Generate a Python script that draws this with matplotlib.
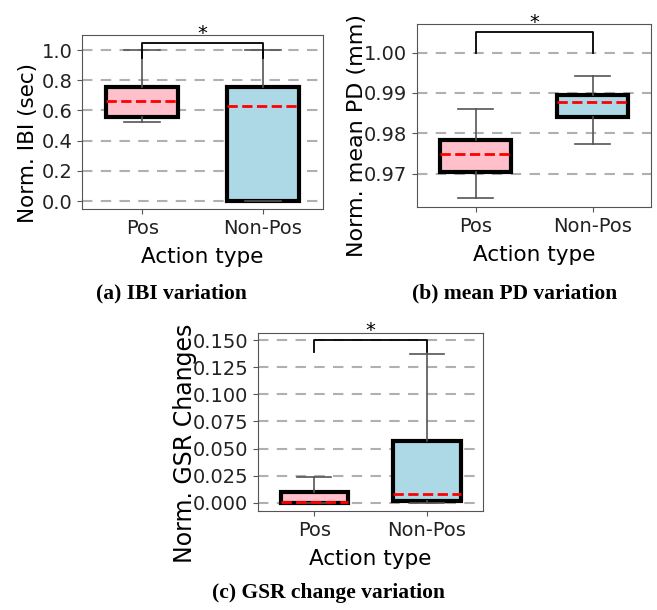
import matplotlib.pyplot as plt

groups = ["Pos", "Non-Pos"]
colors = ["pink", "lightblue"]

# box stats: q1, median, q3, lower whisker, upper whisker
ibi_q1 = [0.555, 0.0]
ibi_med = [0.665, 0.627]
ibi_q3 = [0.753, 0.753]
ibi_lo = [0.525, 0.0]
ibi_hi = [1.0, 1.0]

pd_q1 = [0.9703, 0.9841]
pd_med = [0.9748, 0.9877]
pd_q3 = [0.9782, 0.9896]
pd_lo = [0.9640, 0.9774]
pd_hi = [0.9860, 0.9942]

gsr_q1 = [0.0, 0.0018]
gsr_med = [0.001, 0.008]
gsr_q3 = [0.0098, 0.0572]
gsr_lo = [0.0, 0.0]
gsr_hi = [0.0234, 0.1374]

ibi_ticks = [0.0, 0.2, 0.4, 0.6, 0.8, 1.0]
pd_ticks = [0.97, 0.98, 0.99, 1.00]
gsr_ticks = [0.0, 0.025, 0.05, 0.075, 0.1, 0.125, 0.15]

fig = plt.figure(figsize=(6.57, 6.10), dpi=100)
W, H = 657, 610


def axes_px(l, t, r, b):
    return fig.add_axes([l / W, 1 - b / H, (r - l) / W, (b - t) / H])


def panel(ax, q1, med, q3, lo, hi, ticks, ylim, fmt, ylabel, bracket,
          ysize, ypos):
    stats = []
    for i in range(len(groups)):
        stats.append(dict(q1=q1[i], med=med[i], q3=q3[i],
                          whislo=lo[i], whishi=hi[i], fliers=[]))
    bp = ax.bxp(stats, positions=[0, 1], widths=0.6, patch_artist=True,
                boxprops=dict(edgecolor="black", linewidth=3),
                whiskerprops=dict(color="#555555", linewidth=1.2),
                capprops=dict(color="#555555", linewidth=1.2),
                medianprops=dict(color="red", linestyle="--", linewidth=2))
    for patch, c in zip(bp["boxes"], colors):
        patch.set_facecolor(c)
    ax.set_xlim(-0.5, 1.5)
    ax.set_ylim(*ylim)
    ax.set_yticks(ticks)
    ax.set_yticklabels([fmt.format(t) for t in ticks])
    ax.set_xticks([0, 1])
    ax.set_xticklabels(groups)
    ax.yaxis.grid(True, linestyle="--", color="#b0b0b0", linewidth=1.5, dashes=(5, 4))
    ax.set_axisbelow(True)
    ax.tick_params(labelsize=14, colors="#222222")
    ax.tick_params(color="#555555")
    for s in ax.spines.values():
        s.set_color("#555555")
    ax.set_xlabel("Action type", fontsize=15.5, labelpad=7)
    ax.set_ylabel(ylabel, fontsize=ysize)
    ax.yaxis.set_label_coords(*ypos)
    top, leg0, leg1 = bracket
    ax.plot([0, 0, 1, 1], [leg0, top, top, leg1], color="black", linewidth=1.3,
            clip_on=False)
    ax.text(0.5, top, "*", ha="center", va="bottom", fontsize=14)


ax_a = axes_px(82, 35, 323, 209)
panel(ax_a, ibi_q1, ibi_med, ibi_q3, ibi_lo, ibi_hi, ibi_ticks,
      (-0.053, 1.10), "{:.1f}", "Norm. IBI (sec)", (1.05, 0.945, 0.945),
      15.5, (-0.183, 0.382))

ax_b = axes_px(417, 24, 651, 207)
panel(ax_b, pd_q1, pd_med, pd_q3, pd_lo, pd_hi, pd_ticks,
      (0.9617, 1.0071), "{:.2f}", "Norm. mean PD (mm)", (1.0052, 1.0, 1.0),
      16, (-0.215, 0.393))

ax_c = axes_px(258, 333, 483, 511)
panel(ax_c, gsr_q1, gsr_med, gsr_q3, gsr_lo, gsr_hi, gsr_ticks,
      (-0.0077, 0.1567), "{:.3f}", "Norm. GSR Changes", (0.150, 0.139, 0.139),
      17, (-0.271, 0.382))

cap = dict(ha="center", va="center", fontsize=15.5, fontweight="bold",
           family="Liberation Serif")
fig.text(171 / W, 1 - 293 / H, "(a) IBI variation", **cap)
fig.text(515 / W, 1 - 293 / H, "(b) mean PD variation", **cap)
fig.text(328 / W, 1 - 593 / H, "(c) GSR change variation", **cap)

fig.savefig("out.png", dpi=100)
